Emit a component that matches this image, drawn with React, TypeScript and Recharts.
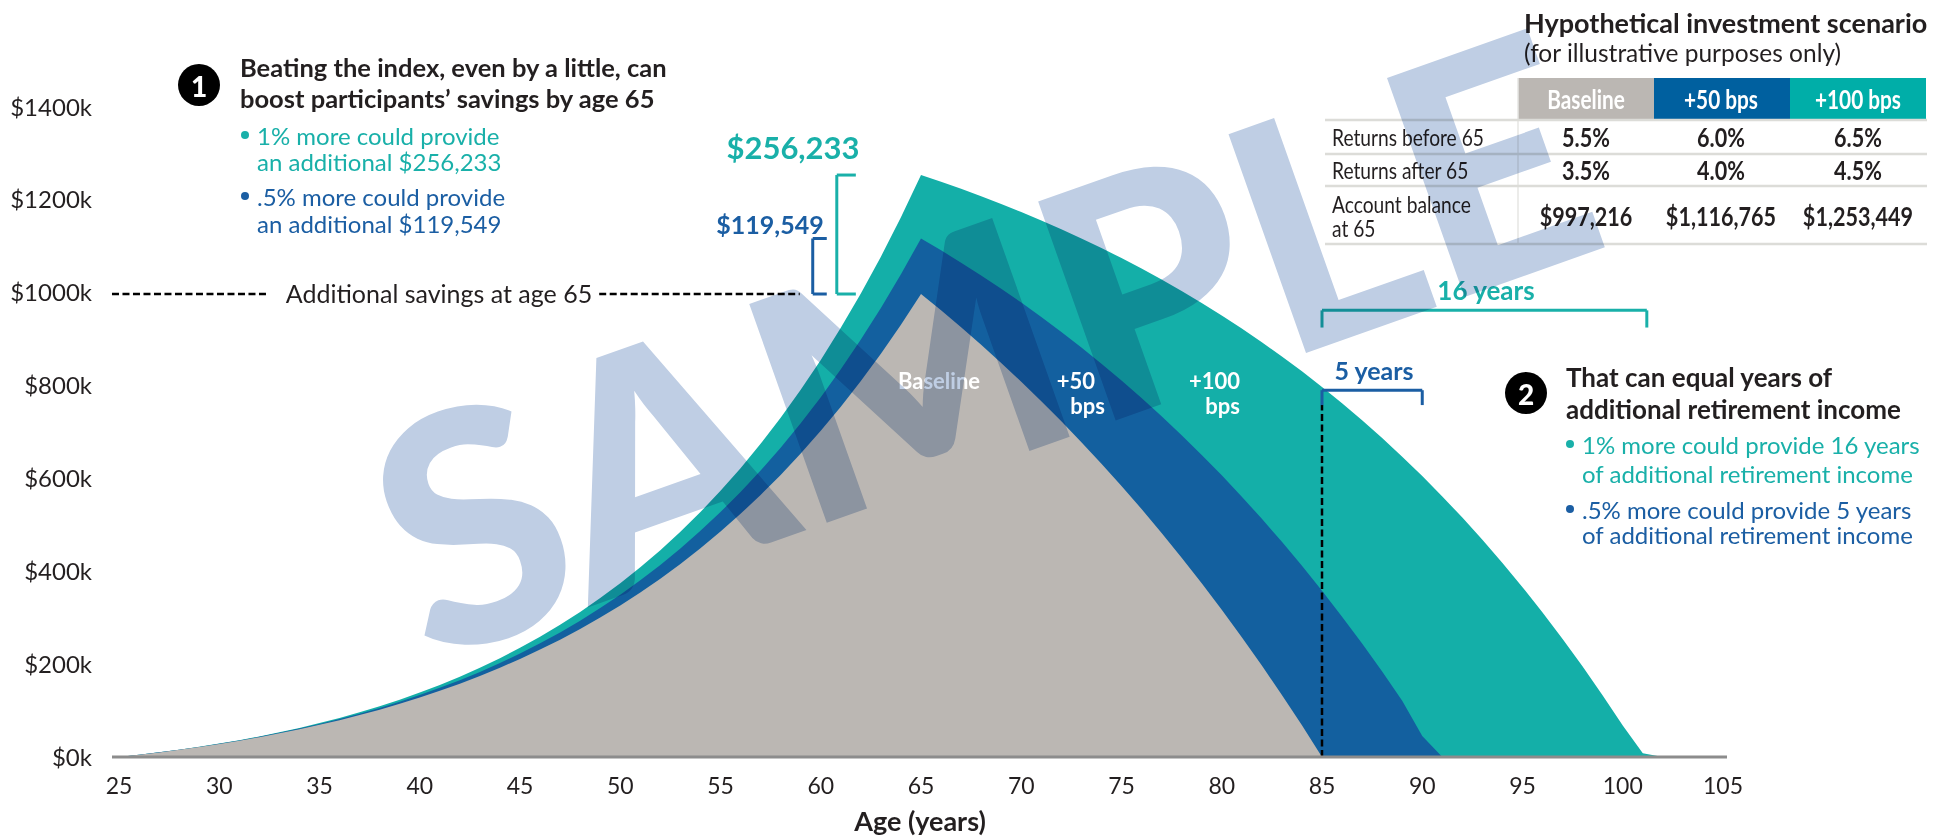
import { AreaChart, Area, XAxis, YAxis, ReferenceLine } from "recharts";

const W = 1946;
const H = 837;

const SANS = "Lato, 'Open Sans', sans-serif";

const INK = "#231F20";
const GRAY = "#BBB7B3";
const BLUE = "#13609F";
const TEAL = "#14AFA8";
const TEAL_TEXT = "#19B0A9";
const BLUE_TEXT = "#1B5EA3";

// ages on the x axis, one point per year
const AGES = [
  25, 26, 27, 28, 29, 30, 31, 32, 33, 34, 35, 36, 37, 38, 39, 40, 41, 42, 43, 44,
  45, 46, 47, 48, 49, 50, 51, 52, 53, 54, 55, 56, 57, 58, 59, 60, 61, 62, 63, 64,
  65, 66, 67, 68, 69, 70, 71, 72, 73, 74, 75, 76, 77, 78, 79, 80, 81, 82, 83, 84,
  85, 86, 87, 88, 89, 90, 91, 92, 93, 94, 95, 96, 97, 98, 99, 100, 101, 102,
];

// account balance in $k
const BASELINE = [
  0, 4.7, 9.9, 15.5, 21.5, 28.0, 35.1, 42.7, 50.9, 59.7, 69.2, 79.4, 90.3, 102.0, 114.6, 128.1, 142.5, 158.0, 174.5, 192.2,
  211.1, 231.3, 252.8, 275.8, 300.4, 326.5, 354.4, 384.1, 415.8, 449.5, 485.5, 523.7, 564.4, 607.6, 653.6, 702.5, 754.5, 809.8, 868.5, 930.9,
  997.216, 962.0, 925.5, 887.7, 848.7, 808.2, 766.3, 723.0, 678.1, 631.7, 583.7, 533.9, 482.5, 429.2, 374.1, 317.1, 258.0, 196.9, 133.6, 68.2,
  0, 0, 0, 0, 0, 0, 0, 0, 0, 0, 0, 0, 0, 0, 0, 0, 0, 0,
];

const PLUS_50 = [
  0, 4.8, 10.0, 15.6, 21.8, 28.5, 35.7, 43.5, 52.0, 61.2, 71.1, 81.8, 93.3, 105.7, 119.0, 133.4, 148.9, 165.5, 183.3, 202.4,
  222.9, 244.9, 268.4, 293.7, 320.7, 349.7, 380.7, 413.8, 449.2, 487.1, 527.6, 570.8, 617.0, 666.3, 718.9, 775.1, 835.1, 899.0, 967.2, 1039.9,
  1116.765, 1091.3, 1064.8, 1037.2, 1008.6, 978.8, 947.8, 915.6, 882.0, 847.2, 810.9, 773.2, 734.0, 693.2, 650.7, 606.6, 560.7, 513.0, 463.4, 411.8,
  358.1, 302.3, 244.2, 183.9, 121.1, 45, 0, 0, 0, 0, 0, 0, 0, 0, 0, 0, 0, 0,
];

const PLUS_100 = [
  0, 4.8, 10.0, 15.8, 22.0, 28.9, 36.3, 44.4, 53.1, 62.7, 73.0, 84.2, 96.3, 109.4, 123.5, 138.8, 155.3, 173.1, 192.2, 212.9,
  235.1, 259.1, 284.8, 312.5, 342.3, 374.2, 408.6, 445.5, 485.1, 527.6, 573.2, 622.1, 674.5, 730.7, 790.9, 855.3, 924.4, 998.4, 1077.6, 1162.4,
  1253.449, 1238.9, 1223.7, 1207.8, 1191.2, 1173.8, 1155.7, 1136.7, 1116.9, 1096.2, 1074.6, 1052.0, 1028.4, 1003.7, 978.0, 951.0, 922.9, 893.4, 862.7, 830.6,
  797.0, 761.9, 725.2, 686.9, 646.9, 605.1, 561.3, 515.6, 467.9, 418.0, 365.8, 311.3, 254.4, 194.9, 132.7, 67.8, 8, 0,
];

const X_TICKS = [25, 30, 35, 40, 45, 50, 55, 60, 65, 70, 75, 80, 85, 90, 95, 100, 105];
const Y_TICKS = [0, 200, 400, 600, 800, 1000, 1200, 1400];

const TABLE_HEAD = ["Baseline", "+50 bps", "+100 bps"];
const RETURNS_BEFORE = ["5.5%", "6.0%", "6.5%"];
const RETURNS_AFTER = ["3.5%", "4.0%", "4.5%"];
const BALANCE_65 = ["$997,216", "$1,116,765", "$1,253,449"];

const money = (v: number) => "$" + Math.round(v * 1000).toLocaleString("en-US");

// condensed table type: Lato squeezed horizontally
function Narrow({ x, y, size, bold, fill = INK, anchor = "start", children }: any) {
  return (
    <text
      transform={`translate(${x},${y}) scale(0.8,1)`}
      fill={fill}
      fontSize={size}
      fontWeight={bold ? 700 : 400}
      textAnchor={anchor}
      dominantBaseline="central"
    >
      {children}
    </text>
  );
}

function Callouts({ gain50, gain100 }: { gain50: number; gain100: number }) {
  const colX = [1586, 1721, 1858];
  const headFill = [GRAY, "#00609F", "#00AEA8"];
  const rule = "#DCDCD8";
  return (
    <svg width={W} height={H} style={{ position: "absolute", left: 0, top: 0 }} fontFamily={SANS}>
      {/* left note */}
      <circle cx={199} cy={85} r={21} fill="#000" />
      <text x={199} y={86} fill="#fff" fontSize={28} fontWeight={900} textAnchor="middle" dominantBaseline="central">1</text>
      <g fill={INK} fontSize={25.5} fontWeight={700} dominantBaseline="central">
        <text x={240} y={67}>Beating the index, even by a little, can</text>
        <text x={240} y={98}>boost participants’ savings by age 65</text>
      </g>
      <g fontSize={24} dominantBaseline="central">
        <circle cx={245} cy={135} r={4} fill={TEAL_TEXT} />
        <text x={257} y={135} fill={TEAL_TEXT}>1% more could provide</text>
        <text x={257} y={161} fill={TEAL_TEXT}>an additional {money(gain100)}</text>
        <circle cx={245} cy={196} r={4} fill={BLUE_TEXT} />
        <text x={257} y={196} fill={BLUE_TEXT}>.5% more could provide</text>
        <text x={257} y={223} fill={BLUE_TEXT}>an additional {money(gain50)}</text>
      </g>
      <text x={793} y={147} fill={TEAL_TEXT} fontSize={31} fontWeight={700} textAnchor="middle" dominantBaseline="central">{money(gain100)}</text>
      <text x={770} y={224} fill={BLUE_TEXT} fontSize={25} fontWeight={700} textAnchor="middle" dominantBaseline="central">{money(gain50)}</text>
      <text x={439} y={293} fill={INK} fontSize={25} textAnchor="middle" dominantBaseline="central">Additional savings at age 65</text>

      {/* labels inside the areas */}
      <g fill="#fff" fontSize={22} fontWeight={700} dominantBaseline="central">
        <text x={939} y={380} textAnchor="middle">Baseline</text>
        <text x={1095} y={380} textAnchor="end">+50</text>
        <text x={1105} y={405} textAnchor="end">bps</text>
        <text x={1240} y={380} textAnchor="end">+100</text>
        <text x={1240} y={405} textAnchor="end">bps</text>
      </g>
      <text x={1374} y={370} fill={BLUE_TEXT} fontSize={25} fontWeight={700} textAnchor="middle" dominantBaseline="central">5 years</text>
      <text x={1486} y={290} fill={TEAL_TEXT} fontSize={26} fontWeight={700} textAnchor="middle" dominantBaseline="central">16 years</text>

      {/* right note */}
      <circle cx={1526} cy={393} r={21} fill="#000" />
      <text x={1526} y={394} fill="#fff" fontSize={28} fontWeight={900} textAnchor="middle" dominantBaseline="central">2</text>
      <g fill={INK} fontSize={26} fontWeight={700} dominantBaseline="central">
        <text x={1566} y={377}>That can equal years of</text>
        <text x={1566} y={409}>additional retirement income</text>
      </g>
      <g fontSize={24} dominantBaseline="central">
        <circle cx={1570} cy={444} r={4} fill={TEAL_TEXT} />
        <text x={1582} y={444} fill={TEAL_TEXT}>1% more could provide 16 years</text>
        <text x={1582} y={473} fill={TEAL_TEXT}>of additional retirement income</text>
        <circle cx={1570} cy={509} r={4} fill={BLUE_TEXT} />
        <text x={1582} y={509} fill={BLUE_TEXT}>.5% more could provide 5 years</text>
        <text x={1582} y={534} fill={BLUE_TEXT}>of additional retirement income</text>
      </g>

      {/* scenario table */}
      <text x={1524} y={22} fill={INK} fontSize={27} fontWeight={700} dominantBaseline="central">Hypothetical investment scenario</text>
      <text x={1524} y={52} fill={INK} fontSize={24.5} dominantBaseline="central">(for illustrative purposes only)</text>
      {TABLE_HEAD.map((h, i) => (
        <g key={h}>
          <rect x={[1518, 1654, 1790][i]} y={78} width={136} height={42} fill={headFill[i]} />
          <Narrow x={colX[i]} y={99} size={26} bold fill="#fff" anchor="middle">{h}</Narrow>
        </g>
      ))}
      <line x1={1518} y1={78} x2={1518} y2={244} stroke="#E6E6E3" strokeWidth={1.5} />
      {[120, 154, 186, 244].map((y) => (
        <line key={y} x1={1325} y1={y} x2={1927} y2={y} stroke={rule} strokeWidth={2.5} />
      ))}
      <Narrow x={1332} y={137} size={24}>Returns before 65</Narrow>
      <Narrow x={1332} y={170} size={24}>Returns after 65</Narrow>
      <Narrow x={1332} y={204} size={24}>Account balance</Narrow>
      <Narrow x={1332} y={228} size={24}>at 65</Narrow>
      {[RETURNS_BEFORE, RETURNS_AFTER, BALANCE_65].map((row, r) =>
        row.map((v, i) => (
          <Narrow key={r + "-" + i} x={colX[i]} y={[137, 170, 216][r]} size={27} bold anchor="middle">{v}</Narrow>
        ))
      )}

      <text x={920} y={820} fill={INK} fontSize={27} fontWeight={700} textAnchor="middle" dominantBaseline="central">Age (years)</text>
    </svg>
  );
}

export default function App() {
  const data = AGES.map((age, i) => ({
    age,
    baseline: BASELINE[i],
    plus50: PLUS_50[i],
    plus100: PLUS_100[i],
  }));
  const at65 = AGES.indexOf(65);
  const base65 = BASELINE[at65];
  const p50 = PLUS_50[at65];
  const p100 = PLUS_100[at65];

  const bracket = { strokeWidth: 3, ifOverflow: "visible" as const };
  const dashed = { stroke: "#000", strokeWidth: 2.5, strokeDasharray: "7 3.5", ifOverflow: "visible" as const };

  return (
    <div style={{ position: "absolute", left: 0, top: 0, width: W, height: H, background: "#fff" }}>
      <AreaChart width={W} height={H} data={data} margin={{ top: 107, right: 219, bottom: 50, left: 0 }}>
        <XAxis
          dataKey="age"
          type="number"
          domain={[25, 105]}
          ticks={X_TICKS}
          interval={0}
          padding={{ left: 7, right: 4 }}
          height={30}
          tickLine={false}
          tickSize={0}
          tickMargin={21}
          axisLine={{ stroke: "#8C8C8C", strokeWidth: 3 }}
          tick={{ fill: INK, fontSize: 23, fontFamily: SANS }}
        />
        <YAxis
          type="number"
          domain={[0, 1400]}
          ticks={Y_TICKS}
          interval={0}
          width={112}
          axisLine={false}
          tickLine={false}
          tickSize={0}
          tickMargin={20}
          tickFormatter={(v: number) => `$${v}k`}
          tick={{ fill: INK, fontSize: 24, fontFamily: SANS }}
        />
        <Area type="linear" dataKey="plus100" fill={TEAL} fillOpacity={1} stroke="none" isAnimationActive={false} activeDot={false} />
        <Area type="linear" dataKey="plus50" fill={BLUE} fillOpacity={1} stroke="none" isAnimationActive={false} activeDot={false} />
        <Area type="linear" dataKey="baseline" fill={GRAY} fillOpacity={1} stroke="none" isAnimationActive={false} activeDot={false} />

        {/* extra savings at 65 */}
        <ReferenceLine segment={[{ x: 24.65, y: base65 }, { x: 32.5, y: base65 }]} {...dashed} />
        <ReferenceLine segment={[{ x: 48.95, y: base65 }, { x: 58.95, y: base65 }]} {...dashed} />
        <ReferenceLine segment={[{ x: 59.6, y: base65 }, { x: 59.6, y: p50 }]} stroke={BLUE_TEXT} {...bracket} />
        <ReferenceLine segment={[{ x: 59.6, y: p50 }, { x: 60.3, y: p50 }]} stroke={BLUE_TEXT} {...bracket} />
        <ReferenceLine segment={[{ x: 59.6, y: base65 }, { x: 60.3, y: base65 }]} stroke={BLUE_TEXT} {...bracket} />
        <ReferenceLine segment={[{ x: 60.8, y: base65 }, { x: 60.8, y: p100 }]} stroke={TEAL_TEXT} {...bracket} />
        <ReferenceLine segment={[{ x: 60.8, y: p100 }, { x: 61.75, y: p100 }]} stroke={TEAL_TEXT} {...bracket} />
        <ReferenceLine segment={[{ x: 60.8, y: base65 }, { x: 61.75, y: base65 }]} stroke={TEAL_TEXT} {...bracket} />

        {/* extra years of income */}
        <ReferenceLine segment={[{ x: 85, y: 0 }, { x: 85, y: 758 }]} {...dashed} />
        <ReferenceLine segment={[{ x: 85, y: 758 }, { x: 85, y: 790 }]} stroke={BLUE_TEXT} {...bracket} />
        <ReferenceLine segment={[{ x: 85, y: 790 }, { x: 90, y: 790 }]} stroke={BLUE_TEXT} {...bracket} />
        <ReferenceLine segment={[{ x: 90, y: 790 }, { x: 90, y: 758 }]} stroke={BLUE_TEXT} {...bracket} />
        <ReferenceLine segment={[{ x: 85, y: 925 }, { x: 85, y: 962 }]} stroke={TEAL_TEXT} {...bracket} />
        <ReferenceLine segment={[{ x: 85, y: 962 }, { x: 101.2, y: 962 }]} stroke={TEAL_TEXT} {...bracket} />
        <ReferenceLine segment={[{ x: 101.2, y: 962 }, { x: 101.2, y: 925 }]} stroke={TEAL_TEXT} {...bracket} />
      </AreaChart>

      <Callouts gain50={p50 - base65} gain100={p100 - base65} />

      {/* watermark */}
      <svg width={W} height={H} style={{ position: "absolute", left: 0, top: 0, mixBlendMode: "multiply", pointerEvents: "none" }}>
        <g transform="translate(428,664) rotate(-19.5)">
          <text
            x={0}
            y={0}
            fontFamily={SANS}
            fontSize={320}
            fontWeight={900}
            fill="#BFCEE4"
            textLength={1260}
            lengthAdjust="spacingAndGlyphs"
          >
            SAMPLE
          </text>
        </g>
      </svg>
    </div>
  );
}
